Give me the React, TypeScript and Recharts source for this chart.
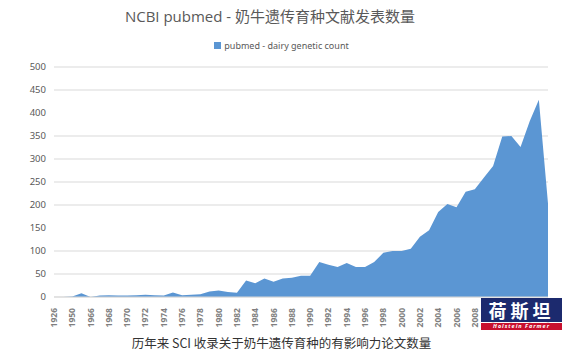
import { AreaChart, Area, XAxis, YAxis, CartesianGrid } from 'recharts';

// 年份（Excel 图里前面几年是跳着的）
const years: string[] = [
  '1926', '1948', '1950', '1960',
  '1966', '1967', '1968', '1969', '1970', '1971', '1972', '1973', '1974', '1975',
  '1976', '1977', '1978', '1979', '1980', '1981', '1982', '1983', '1984', '1985',
  '1986', '1987', '1988', '1989', '1990', '1991', '1992', '1993', '1994', '1995',
  '1996', '1997', '1998', '1999', '2000', '2001', '2002', '2003', '2004', '2005',
  '2006', '2007', '2008', '2009', '2010', '2011', '2012', '2013', '2014', '2015',
  '2016',
];

// pubmed - dairy genetic count
const counts: number[] = [
  0, 0, 1, 8,
  0, 3, 4, 3, 3, 4, 5, 4, 3, 10,
  4, 5, 6, 12, 14, 11, 9, 36, 30, 40,
  33, 40, 42, 46, 46, 76, 70, 65, 74, 65,
  65, 76, 96, 100, 100, 105, 131, 145, 185, 202,
  195, 229, 234, 260, 285, 349, 350, 326, 382, 429,
  203,
];

const yTicks = [0, 50, 100, 150, 200, 250, 300, 350, 400, 450, 500];

const data = years.map((y, i) => ({ year: y, count: counts[i] }));

const axisColor = '#595959';

const YearTick = (props: any) => {
  const { x, y, payload } = props;
  return (
    <text
      x={x}
      y={y}
      transform={`rotate(-90, ${x}, ${y})`}
      textAnchor="end"
      dx={-3}
      dy={3}
      fontSize={8.5}
      fontWeight="bold"
      fill="#7f7f7f"
      fontFamily="Noto Sans, sans-serif"
    >
      {payload.value}
    </text>
  );
};

export default function App() {
  return (
    <div
      style={{
        position: 'absolute',
        left: 0,
        top: 0,
        width: 563,
        height: 356,
        background: '#fff',
        overflow: 'hidden',
        fontFamily: '"Noto Sans", "Noto Sans CJK SC", sans-serif',
      }}
    >
      <div
        style={{
          position: 'absolute',
          top: 5,
          left: 0,
          width: 540,
          textAlign: 'center',
          fontSize: 15,
          color: axisColor,
          fontFamily: '"Open Sans", "Noto Sans CJK SC", sans-serif',
        }}
      >
        NCBI pubmed - 奶牛遗传育种文献发表数量
      </div>
      <div
        style={{
          position: 'absolute',
          top: 38,
          left: 0,
          width: 563,
          textAlign: 'center',
          fontSize: 9,
          color: axisColor,
        }}
      >
        <span
          style={{
            display: 'inline-block',
            width: 7,
            height: 7,
            background: '#5b96d3',
            marginRight: 3,
            verticalAlign: 'middle',
          }}
        />
        <span style={{ verticalAlign: 'middle' }}>pubmed - dairy genetic count</span>
      </div>

      <AreaChart
        width={563}
        height={356}
        data={data}
        margin={{ top: 67, right: 15, bottom: 0, left: 0 }}
        style={{ position: 'absolute', left: 0, top: 0 }}
      >
        <CartesianGrid vertical={false} stroke="#d9d9d9" />
        <XAxis
          dataKey="year"
          interval={1}
          height={59}
          tickLine={false}
          stroke="#d9d9d9"
          tick={<YearTick />}
        />
        <YAxis
          width={54}
          domain={[0, 500]}
          ticks={yTicks}
          axisLine={false}
          tickLine={false}
          tickMargin={2}
          tick={{ fontSize: 9.5, fill: axisColor }}
        />
        <Area
          type="linear"
          dataKey="count"
          stroke="none"
          fill="#5b96d3"
          fillOpacity={1}
          isAnimationActive={false}
        />
      </AreaChart>

      <div
        style={{
          position: 'absolute',
          left: 481,
          top: 298,
          width: 81,
          height: 24,
          background: '#1c2a6e',
          overflow: 'hidden',
        }}
      >
        <div
          style={{
            color: '#fff',
            fontSize: 18,
            fontWeight: 'bold',
            lineHeight: '22px',
            marginTop: 1,
            textAlign: 'center',
            letterSpacing: 4,
            fontFamily: '"Noto Sans CJK SC", sans-serif',
          }}
        >
          荷斯坦
        </div>
      </div>
      <div
        style={{
          position: 'absolute',
          left: 481,
          top: 323,
          width: 81,
          height: 7,
          background: '#c8102e',
          color: '#fff',
          fontSize: 5.5,
          fontWeight: 'bold',
          fontStyle: 'italic',
          lineHeight: '7px',
          textAlign: 'center',
          letterSpacing: 1,
          overflow: 'hidden',
        }}
      >
        Holstein Farmer
      </div>

      <div
        style={{
          position: 'absolute',
          top: 333,
          left: 0,
          width: 563,
          textAlign: 'center',
          fontSize: 12.5,
          color: '#333',
          fontFamily: '"Noto Sans CJK SC", sans-serif',
        }}
      >
        历年来 SCI 收录关于奶牛遗传育种的有影响力论文数量
      </div>
    </div>
  );
}
